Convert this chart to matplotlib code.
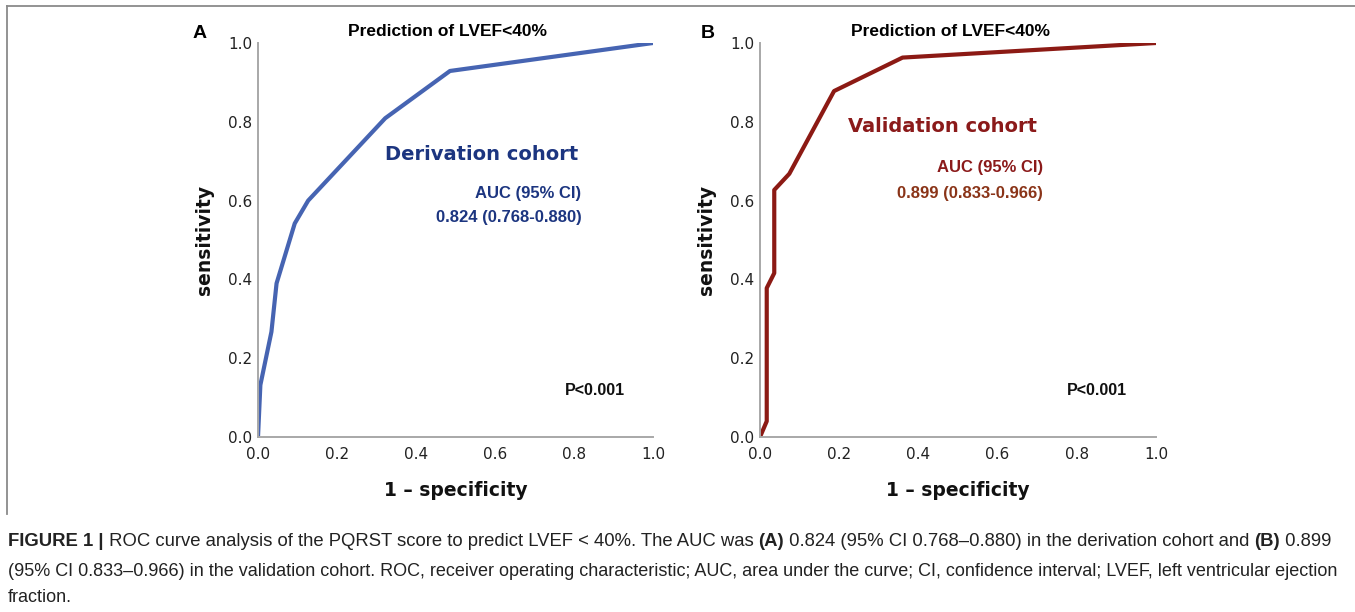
import matplotlib
matplotlib.use("Agg")
import matplotlib.pyplot as plt
from matplotlib.lines import Line2D

# ---- data ----
deriv_fpr = [0.0, 0.006, 0.034, 0.047, 0.093, 0.127, 0.322, 0.486, 1.0]
deriv_tpr = [0.0, 0.132, 0.267, 0.390, 0.542, 0.600, 0.809, 0.929, 1.0]
valid_fpr = [0.0, 0.017, 0.017, 0.036, 0.036, 0.074, 0.187, 0.360, 1.0]
valid_tpr = [0.0, 0.040, 0.378, 0.416, 0.627, 0.668, 0.878, 0.963, 1.0]
ticks = [0.0, 0.2, 0.4, 0.6, 0.8, 1.0]
tick_labels = ["0.0", "0.2", "0.4", "0.6", "0.8", "1.0"]

W, H = 1355, 612
fig = plt.figure(figsize=(W / 100, H / 100), dpi=100)
fig.patch.set_facecolor("white")

def px(x, y):
    return x / W, 1 - y / H

def make_ax(left, right, top, bottom):
    l, b = px(left, bottom)
    r, t = px(right, top)
    ax = fig.add_axes([l, b, r - l, t - b])
    ax.set_xlim(0, 1)
    ax.set_ylim(0, 1)
    for s in ["top", "right"]:
        ax.spines[s].set_visible(False)
    for s in ["left", "bottom"]:
        ax.spines[s].set_color("#a8a8a8")
        ax.spines[s].set_linewidth(1.4)
    ax.set_xticks(ticks)
    ax.set_xticklabels(tick_labels)
    ax.set_yticks(ticks)
    ax.set_yticklabels(tick_labels)
    ax.tick_params(length=0, labelsize=11, colors="#222222")
    ax.tick_params(axis="x", pad=7)
    ax.tick_params(axis="y", pad=4)
    ax.set_xlabel("1 – specificity", fontsize=13.5, fontweight="bold",
                  family="DejaVu Sans", labelpad=14, color="#111111")
    ax.set_ylabel("sensitivity", fontsize=13.5, fontweight="bold",
                  family="DejaVu Sans", labelpad=10, color="#111111")
    return ax

blue_line = "#4664b2"
navy = "#1c3580"
red_line = "#8c1a14"
dark_red = "#8b1a1a"
brown = "#8a3418"

axA = make_ax(258, 653, 43, 437)
axA.plot(deriv_fpr, deriv_tpr, color=blue_line, lw=3.0, solid_joinstyle="round")
axA.text(0.322, 0.716, "Derivation cohort", color=navy, fontsize=14,
         fontweight="bold", family="DejaVu Sans", ha="left", va="center")
axA.text(0.818, 0.619, "AUC (95% CI)", color=navy, fontsize=12,
         fontweight="bold", family="Liberation Sans", ha="right", va="center")
axA.text(0.820, 0.556, "0.824 (0.768-0.880)", color=navy, fontsize=12,
         fontweight="bold", family="Liberation Sans", ha="right", va="center")
axA.text(0.777, 0.119, "P<0.001", color="#111111", fontsize=11.5,
         fontweight="bold", family="Liberation Sans", ha="left", va="center")

axB = make_ax(760, 1156, 43, 437)
axB.plot(valid_fpr, valid_tpr, color=red_line, lw=3.0, solid_joinstyle="round")
axB.text(0.222, 0.787, "Validation cohort", color=dark_red, fontsize=14,
         fontweight="bold", family="DejaVu Sans", ha="left", va="center")
axB.text(0.715, 0.685, "AUC (95% CI)", color=dark_red, fontsize=12,
         fontweight="bold", family="Liberation Sans", ha="right", va="center")
axB.text(0.715, 0.619, "0.899 (0.833-0.966)", color=brown, fontsize=12,
         fontweight="bold", family="Liberation Sans", ha="right", va="center")
axB.text(0.775, 0.119, "P<0.001", color="#111111", fontsize=11.5,
         fontweight="bold", family="Liberation Sans", ha="left", va="center")

# titles and panel letters
for cx, letter, lx in [(448, "A", 200), (950, "B", 708)]:
    fig.text(*px(cx, 31), "Prediction of LVEF<40%", fontsize=12.5,
             fontweight="bold", family="Liberation Sans", ha="center", va="center")
    fig.text(*px(lx, 33), letter, fontsize=14, fontweight="bold",
             family="Liberation Sans", ha="center", va="center")

# frame lines
fig.add_artist(Line2D([7 / W, 1.0], [1 - 6 / H, 1 - 6 / H], color="#8a8a8a", lw=1.3,
                      transform=fig.transFigure))
fig.add_artist(Line2D([7 / W, 7 / W], [1 - 6 / H, 1 - 514 / H], color="#8a8a8a", lw=1.3,
                      transform=fig.transFigure))

# caption
caption_lines = [
    [("FIGURE 1 |", "bold"),
     (" ROC curve analysis of the PQRST score to predict LVEF < 40%. The AUC was ", "normal"),
     ("(A)", "bold"),
     (" 0.824 (95% CI 0.768–0.880) in the derivation cohort and ", "normal"),
     ("(B)", "bold"),
     (" 0.899", "normal")],
    [("(95% CI 0.833–0.966) in the validation cohort. ROC, receiver operating characteristic; "
      "AUC, area under the curve; CI, confidence interval; LVEF, left ventricular ejection", "normal")],
    [("fraction.", "normal")],
]
caption_y = [541, 571, 598]
caption_target = [1332, 1335, None]
base_size = 12.0

fig.canvas.draw()
renderer = fig.canvas.get_renderer()

def draw_line(line, yy, size):
    x = 8
    arts = []
    for txt, wt in line:
        t = fig.text(*px(x, yy), txt, fontsize=size, fontweight=wt,
                     family="Liberation Sans", color="#222222", ha="left", va="center")
        bb = t.get_window_extent(renderer=renderer)
        x += bb.width
        arts.append(t)
    return arts, x - 8

last_size = base_size
for line, yy, target in zip(caption_lines, caption_y, caption_target):
    if target is None:
        draw_line(line, yy, last_size)
        continue
    arts, width = draw_line(line, yy, base_size)
    for a in arts:
        a.remove()
    size = base_size * target / width
    draw_line(line, yy, size)
    last_size = size

fig.savefig("out.png", dpi=100, facecolor="white")
